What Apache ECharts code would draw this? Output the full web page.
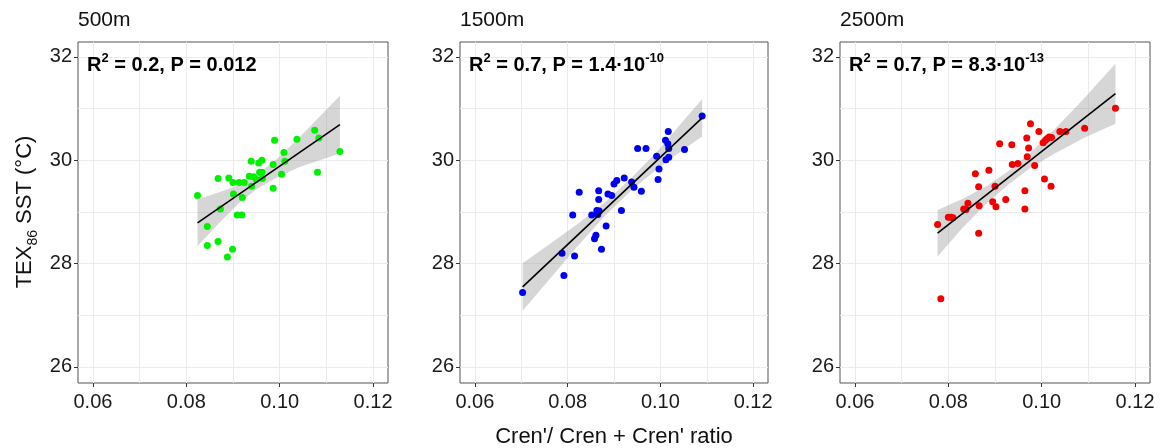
<!DOCTYPE html>
<html><head><meta charset="utf-8">
<script src="https://cdn.jsdelivr.net/npm/echarts@6/dist/echarts.min.js"></script>
<style>html,body{margin:0;padding:0;background:#fff}#c{width:1163px;height:448px}</style>
</head><body><div id="c"></div>
<script>
// ---------- data ----------
const panelTitles = ['500m', '1500m', '2500m'];
const statTexts = ['{n|R}{sup|2}{n| = 0.2, P = 0.012}', '{n|R}{sup|2}{n| = 0.7, P = 1.4·10}{sup|-10}', '{n|R}{sup|2}{n| = 0.7, P = 8.3·10}{sup|-13}'];
const colors = ['#00f000', '#0000f0', '#f00000'];

const x500 = [0.0824,0.0845,0.0845,0.0868,0.0868,0.0873,0.0888,0.0891,0.0899,0.0900,0.0901,0.0909,0.0919,0.0913,0.0920,0.0924,0.0935,0.0939,0.0940,0.0944,0.0950,0.0955,0.0957,0.0962,0.0962,0.0963,0.0986,0.0986,0.0989,0.1004,0.1009,0.1011,0.1037,0.1075,0.1081,0.1084,0.1129];
const y500 = [29.32,28.72,28.35,29.65,28.43,29.06,28.13,29.66,28.28,29.57,29.35,28.94,28.94,29.57,29.28,29.57,29.69,29.98,29.50,29.68,29.63,29.95,29.77,30.00,29.77,29.65,29.92,29.46,30.39,29.73,30.15,29.98,30.41,30.58,29.77,30.43,30.17];

const x1500 = [0.0703,0.0788,0.0792,0.0811,0.0815,0.0825,0.0852,0.0858,0.0861,0.0863,0.0865,0.0867,0.0867,0.0868,0.0873,0.0883,0.0887,0.0895,0.0900,0.0906,0.0916,0.0922,0.0938,0.0943,0.0951,0.0959,0.0969,0.0992,0.0995,0.0997,0.1011,0.1012,0.1016,0.1017,0.1018,0.1018,0.1052,0.1090];
const y1500 = [27.44,28.20,27.77,28.94,28.15,29.38,28.94,28.48,28.55,29.03,28.95,29.41,29.24,29.02,28.28,28.73,29.35,29.32,29.54,29.61,29.03,29.66,29.58,29.48,30.23,29.40,30.23,30.08,29.63,29.83,30.39,30.01,30.32,30.56,30.23,30.06,30.21,30.86];

const x2500 = [0.0777,0.0784,0.0800,0.0806,0.0810,0.0833,0.0838,0.0842,0.0858,0.0865,0.0866,0.0865,0.0887,0.0895,0.0900,0.0902,0.0910,0.0923,0.0936,0.0937,0.0949,0.0964,0.0964,0.0968,0.0969,0.0972,0.0976,0.0985,0.0994,0.1003,0.1006,0.1008,0.1012,0.1016,0.1021,0.1020,0.1039,0.1052,0.1092,0.1158];
const y2500 = [28.76,27.32,28.90,28.90,28.89,29.06,29.05,29.17,29.74,29.49,29.12,28.59,29.81,29.20,29.50,29.10,30.32,29.24,30.30,29.92,29.94,29.41,29.06,30.43,30.07,30.24,30.71,29.90,30.56,30.34,29.64,30.39,30.42,30.45,30.44,29.50,30.56,30.56,30.62,31.01];

// fitted lines (end points)
const fitX500 = [0.0824, 0.1129], fitY500 = [28.79, 30.69];
const fitX1500 = [0.0703, 0.1090], fitY1500 = [27.55, 30.82];
const fitX2500 = [0.0777, 0.1158], fitY2500 = [28.59, 31.29];

// confidence ribbons
const bandX500 = [0.0824,0.087,0.091,0.095,0.099,0.104,0.1129];
const bandLo500 = [28.34,28.78,29.15,29.44,29.65,29.86,30.13];
const bandHi500 = [29.24,29.38,29.51,29.72,29.99,30.42,31.25];
const bandX1500 = [0.0703,0.076,0.082,0.088,0.094,0.100,0.105,0.109];
const bandLo1500 = [27.09,27.69,28.32,28.92,29.44,29.88,30.21,30.46];
const bandHi1500 = [28.01,28.37,28.76,29.18,29.68,30.24,30.77,31.18];
const bandX2500 = [0.0777,0.083,0.088,0.093,0.098,0.103,0.109,0.1158];
const bandLo2500 = [28.14,28.69,29.15,29.54,29.88,30.14,30.43,30.71];
const bandHi2500 = [29.04,29.25,29.49,29.80,30.18,30.62,31.19,31.87];

const xMajor = [0.06, 0.08, 0.10, 0.12];
const xAll = [0.06, 0.07, 0.08, 0.09, 0.10, 0.11, 0.12];
const yMajor = [26, 28, 30, 32];
const yAll = [26, 27, 28, 29, 30, 31, 32];
const xMin = 0.0568, xMax = 0.1232, yMin = 25.69, yMax = 32.29;

// ---------- chart ----------
const FONT = 'Liberation Sans, Arial, sans-serif';
const gridLefts = [78, 460, 840];
const gridWidths = [310, 308, 310];
const panels = [
  {x: x500, y: y500, fx: fitX500, fy: fitY500, bx: bandX500, lo: bandLo500, hi: bandHi500},
  {x: x1500, y: y1500, fx: fitX1500, fy: fitY1500, bx: bandX1500, lo: bandLo1500, hi: bandHi1500},
  {x: x2500, y: y2500, fx: fitX2500, fy: fitY2500, bx: bandX2500, lo: bandLo2500, hi: bandHi2500}
];

const grid = [], xAxis = [], yAxis = [], series = [], graphic = [];
panels.forEach((p, i) => {
  grid.push({left: gridLefts[i], top: 42, width: gridWidths[i], height: 341,
    show: true, borderColor: '#555', borderWidth: 1, backgroundColor: 'transparent', containLabel: false});
  // gridline axes
  xAxis.push({type: 'value', gridIndex: i, min: xMin, max: xMax,
    axisLine: {show: false}, axisTick: {show: false, customValues: xAll},
    axisLabel: {show: false, customValues: xAll},
    splitLine: {show: true, lineStyle: {color: '#ebebeb', width: 1}}});
  yAxis.push({type: 'value', gridIndex: i, min: yMin, max: yMax,
    axisLine: {show: false}, axisTick: {show: false, customValues: yAll},
    axisLabel: {show: false, customValues: yAll},
    splitLine: {show: true, lineStyle: {color: '#ebebeb', width: 1}}});
  // label axes
  xAxis.push({type: 'value', gridIndex: i, min: xMin, max: xMax, position: 'bottom',
    axisLine: {show: false}, splitLine: {show: false},
    axisTick: {show: true, length: 4, customValues: xMajor, lineStyle: {color: '#333'}},
    axisLabel: {show: true, customValues: xMajor, margin: 9, color: '#1a1a1a', fontSize: 20, fontFamily: FONT,
      formatter: v => v.toFixed(2)}});
  yAxis.push({type: 'value', gridIndex: i, min: yMin, max: yMax, position: 'left',
    axisLine: {show: false}, splitLine: {show: false},
    axisTick: {show: true, length: 4, customValues: yMajor, lineStyle: {color: '#333'}},
    axisLabel: {show: true, customValues: yMajor, margin: 6, color: '#1a1a1a', fontSize: 20, fontFamily: FONT}});

  const xi = i * 2, yi = i * 2;
  series.push({
    type: 'custom', xAxisIndex: xi, yAxisIndex: yi, z: 1, silent: true,
    data: p.bx.map((v, k) => [v, p.lo[k], p.hi[k]]),
    renderItem: (params, api) => {
      if (params.dataIndex !== 0) return null;
      const pts = [];
      for (let k = 0; k < p.bx.length; k++) pts.push(api.coord([p.bx[k], p.hi[k]]));
      for (let k = p.bx.length - 1; k >= 0; k--) pts.push(api.coord([p.bx[k], p.lo[k]]));
      return {type: 'polygon', shape: {points: pts}, style: {fill: 'rgba(153,153,153,0.4)', stroke: null}};
    }
  });
  series.push({
    type: 'scatter', xAxisIndex: xi, yAxisIndex: yi, z: 2, symbolSize: 7,
    itemStyle: {color: colors[i], opacity: 1},
    data: p.x.map((v, k) => [v, p.y[k]])
  });
  series.push({
    type: 'line', xAxisIndex: xi, yAxisIndex: yi, z: 3, symbol: 'none', silent: true,
    lineStyle: {color: '#000', width: 1.6},
    data: p.fx.map((v, k) => [v, p.fy[k]])
  });

  graphic.push({type: 'text', left: gridLefts[i], top: 10, z: 100,
    style: {text: panelTitles[i], font: '21px ' + FONT, fill: '#111'}});
  graphic.push({type: 'text', left: gridLefts[i] + 9, top: 52, z: 100,
    style: {text: statTexts[i], fill: '#000',
      rich: {
        n: {fontSize: 20, fontWeight: 'bold', fontFamily: FONT, color: '#000', lineHeight: 26, verticalAlign: 'middle'},
        sup: {fontSize: 13, fontWeight: 'bold', fontFamily: FONT, color: '#000', lineHeight: 26, verticalAlign: 'top'}
      }}});
});

graphic.push({type: 'text', x: 614, y: 437, z: 100,
  style: {text: "Cren'/ Cren + Cren' ratio", font: '22px ' + FONT, fill: '#111', align: 'center', verticalAlign: 'middle'}});
graphic.push({type: 'text', x: 25, y: 212, rotation: Math.PI / 2, z: 100,
  style: {text: '{m|TEX}{sub|86}{m| SST (°C)}', fill: '#111', align: 'center', verticalAlign: 'middle',
    rich: {
      m: {fontSize: 22, fontFamily: FONT, color: '#111', lineHeight: 30, verticalAlign: 'middle'},
      sub: {fontSize: 14, fontFamily: FONT, color: '#111', lineHeight: 30, verticalAlign: 'bottom'}
    }}});

const chart = echarts.init(document.getElementById('c'), null, {renderer: 'canvas'});
chart.setOption({animation: false, backgroundColor: '#fff', grid, xAxis, yAxis, series, graphic});
</script>
</body></html>
